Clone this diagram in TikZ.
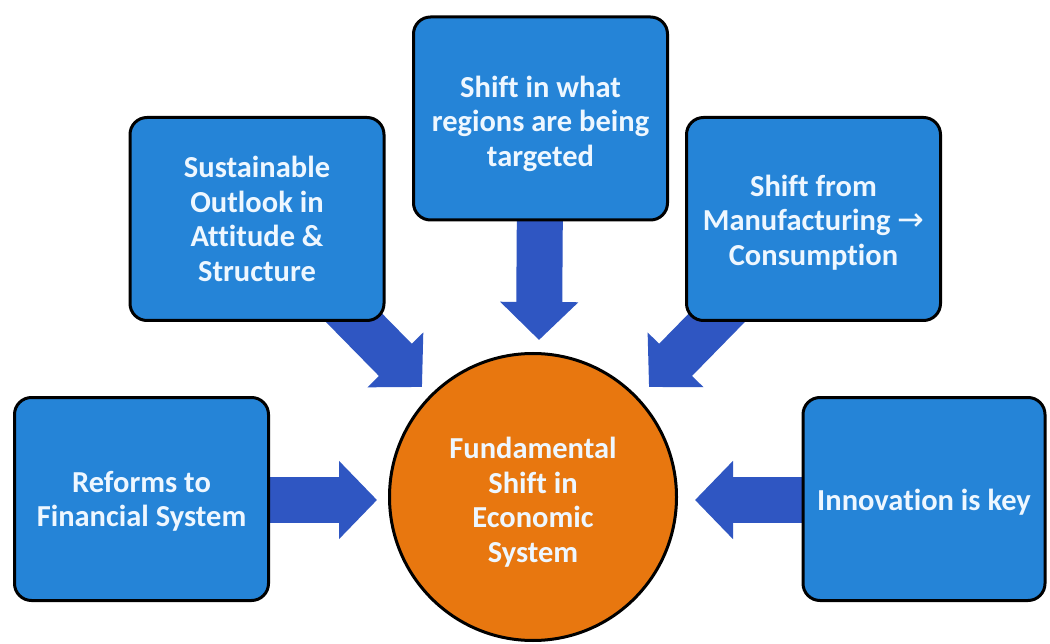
\documentclass[tikz,border=0pt]{standalone}
\usepackage{fontspec}
\setmainfont{Carlito}[Ligatures=NoCommon]
\newfontfamily\arrowfont{DejaVu Sans}
\usetikzlibrary{arrows.meta,backgrounds}
\definecolor{boxblue}{HTML}{2584D7}
\definecolor{arrowblue}{HTML}{2F56C2}
\definecolor{hubor}{HTML}{E8770F}
\definecolor{txt}{HTML}{EEF7FF}
\newcommand\txtdrop[1]{\rule{0pt}{#1}}
\tikzset{
  box/.style={rectangle, rounded corners=17pt, draw=black, line width=3pt,
    fill=boxblue, minimum width=254pt, minimum height=203pt, text=txt,
    font=\bfseries\fontsize{30.5}{34.5}\selectfont, align=center, inner sep=2pt},
  hub/.style={circle, draw=black, line width=3pt, fill=hubor,
    minimum size=287pt, text=txt, inner sep=0pt,
    font=\bfseries\fontsize{30.5}{34.5}\selectfont, align=center},
  blockarrow/.style={draw=arrowblue, line width=46pt,
    -{Triangle[length=38pt,width=76pt,fill=arrowblue]}}
}
\begin{document}
\begin{tikzpicture}[x=1pt,y=-1pt]
\useasboundingbox (0,0) rectangle (1050,644);
\node[hub] (c) at (533,497) {\txtdrop{32pt}Fundamental\\Shift in\\Economic\\System};
\node[box] (tc) at (540.5,118.5) {\txtdrop{32pt}Shift in what\\regions are being\\targeted};
\node[box] (lu) at (257,219) {Sustainable\\Outlook in\\Attitude \&\\Structure};
\node[box] (ru) at (813.5,219) {\txtdrop{28pt}Shift from\\Manufacturing {\arrowfont\mdseries\fontsize{32}{32}\selectfont →}\\Consumption};
\node[box] (lb) at (141.5,499) {\txtdrop{26pt}Reforms to\\Financial System};
\node[box, minimum width=242pt] (rb) at (924,499) {\txtdrop{28pt}Innovation is key};
\coordinate (tipT) at (539,340);
\coordinate (tipLU) at (422,387);
\coordinate (tipRU) at (649,387);
\coordinate (tipL) at (377,500);
\coordinate (tipR) at (695,500);
\begin{pgfonlayer}{background}
\fill[white] (0,0) rectangle (1050,644);
\draw[blockarrow] (tc.center) -- (tipT);
\draw[blockarrow] (lu.center) -- (tipLU);
\draw[blockarrow] (ru.center) -- (tipRU);
\draw[blockarrow] (lb.center |- tipL) -- (tipL);
\draw[blockarrow] (rb.center |- tipR) -- (tipR);
\end{pgfonlayer}
\end{tikzpicture}
\end{document}
